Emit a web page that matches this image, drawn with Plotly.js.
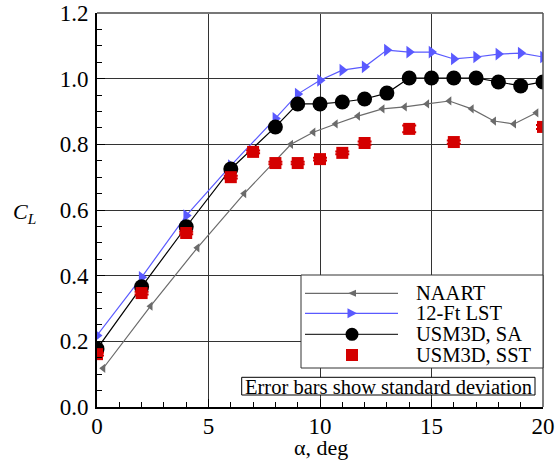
<!DOCTYPE html>
<html>
<head>
<meta charset="utf-8">
<script src="https://cdn.plot.ly/plotly-3.0.1.min.js"></script>
<style>html,body{margin:0;padding:0;background:#fff;}#chart{width:555px;height:463px;}</style>
</head>
<body>
<div id="chart"></div>
<script>
// ---- data ----
const alphaNaart = [0.28, 2.4, 4.5, 6.6, 8.7, 9.7, 10.7, 11.7, 12.8, 13.8, 14.8, 15.8, 16.8, 17.8, 18.7, 19.7];
const clNaart    = [0.118, 0.307, 0.485, 0.65, 0.80, 0.837, 0.862, 0.886, 0.908, 0.914, 0.923, 0.932, 0.908, 0.871, 0.862, 0.896];

const alphaLst = [0, 2, 4, 6, 8, 9, 10, 11, 12, 13, 14, 15, 16, 17, 18, 19, 20];
const clLst    = [0.218, 0.395, 0.583, 0.735, 0.879, 0.953, 0.995, 1.026, 1.036, 1.087, 1.081, 1.081, 1.06, 1.066, 1.075, 1.078, 1.066];

const alphaSa = [0, 2, 4, 6, 8, 9, 10, 11, 12, 13, 14, 15, 16, 17, 18, 19, 20];
const clSa    = [0.177, 0.366, 0.549, 0.725, 0.853, 0.923, 0.923, 0.929, 0.938, 0.956, 1.002, 1.002, 1.002, 1.002, 0.99, 0.978, 0.99];

const alphaSst = [0, 2, 4, 6, 7, 8, 9, 10, 11, 12, 14, 16, 20];
const clSst    = [0.161, 0.347, 0.53, 0.70, 0.777, 0.743, 0.743, 0.755, 0.774, 0.804, 0.847, 0.807, 0.853];
const sdSst    = [0.004, 0.004, 0.004, 0.004, 0.004, 0.004, 0.004, 0.004, 0.004, 0.005, 0.010, 0.005, 0.006];

const seriesNames = ['NAART', '12-Ft LST', 'USM3D, SA', 'USM3D, SST'];
const xTitle = 'α, deg';
const yTitle = '<i>C</i><sub><i>L</i></sub>';
const noteText = 'Error bars show standard deviation';

// ---- styles ----
const FONT = 'Liberation Serif';
const cGray = '#6b6b6b', cBlue = '#5a5aff', cBlack = '#000000', cRed = '#d40000';

const traces = [
  {x: alphaNaart, y: clNaart, name: seriesNames[0], mode: 'lines+markers',
   line: {color: cGray, width: 1.2}, marker: {symbol: 'triangle-left', size: 8, color: cGray}},
  {x: alphaLst, y: clLst, name: seriesNames[1], mode: 'lines+markers',
   line: {color: cBlue, width: 1.2}, marker: {symbol: 'triangle-right', size: 11, color: cBlue}},
  {x: alphaSa, y: clSa, name: seriesNames[2], mode: 'lines+markers',
   line: {color: cBlack, width: 1.2}, marker: {symbol: 'circle', size: 15, color: cBlack}},
  {x: alphaSst, y: clSst, name: seriesNames[3], mode: 'markers',
   marker: {symbol: 'square', size: 12, color: cRed},
   error_y: {type: 'data', array: sdSst, visible: true, color: cRed, thickness: 2, width: 7}}
];

// plot-area pixel geometry (for legend decorations)
const L = 97, R = 543, T = 13, B = 407;
const px = v => (v - L) / (R - L);
const py = v => (B - v) / (B - T);

const rowsY = [293.3, 313.3, 334.3, 355];
const lineX0 = px(305), lineX1 = px(398), markX = px(352), textX = px(414);

const shapes = [
  // top & right frame
  {type: 'line', xref: 'paper', yref: 'paper', x0: 0, x1: 1, y0: 1, y1: 1, line: {color: '#777', width: 2}},
  {type: 'line', xref: 'paper', yref: 'paper', x0: 1, x1: 1, y0: 0, y1: 1, line: {color: '#555', width: 1.5}},
  // legend box
  {type: 'rect', xref: 'paper', yref: 'paper', x0: px(301), x1: px(543), y0: py(368), y1: py(275),
   line: {color: '#333', width: 1}, fillcolor: '#fff'},
  // legend sample lines
  {type: 'line', xref: 'paper', yref: 'paper', x0: lineX0, x1: lineX1, y0: py(rowsY[0]), y1: py(rowsY[0]), line: {color: cGray, width: 1.2}},
  {type: 'line', xref: 'paper', yref: 'paper', x0: lineX0, x1: lineX1, y0: py(rowsY[1]), y1: py(rowsY[1]), line: {color: cBlue, width: 1.2}},
  {type: 'line', xref: 'paper', yref: 'paper', x0: lineX0, x1: lineX1, y0: py(rowsY[2]), y1: py(rowsY[2]), line: {color: '#333', width: 1.2}},
  // legend markers
  {type: 'path', xref: 'paper', yref: 'paper', xsizemode: 'pixel', ysizemode: 'pixel', xanchor: markX, yanchor: py(rowsY[0]),
   path: 'M -4 0 L 4 3.5 L 4 -3.5 Z', fillcolor: cGray, line: {width: 0}},
  {type: 'path', xref: 'paper', yref: 'paper', xsizemode: 'pixel', ysizemode: 'pixel', xanchor: markX, yanchor: py(rowsY[1]),
   path: 'M -4.5 -5 L 5 0 L -4.5 5 Z', fillcolor: cBlue, line: {width: 0}},
  {type: 'circle', xref: 'paper', yref: 'paper', xsizemode: 'pixel', ysizemode: 'pixel', xanchor: markX, yanchor: py(rowsY[2]),
   x0: -6.5, x1: 6.5, y0: -6.5, y1: 6.5, fillcolor: cBlack, line: {width: 0}},
  {type: 'rect', xref: 'paper', yref: 'paper', xsizemode: 'pixel', ysizemode: 'pixel', xanchor: markX, yanchor: py(rowsY[3]),
   x0: -6, x1: 6, y0: -6, y1: 6, fillcolor: cRed, line: {width: 0}},
  // note box
  {type: 'rect', xref: 'paper', yref: 'paper', x0: px(241.7), x1: px(535), y0: py(395), y1: py(377.3),
   line: {color: '#000', width: 1}, fillcolor: '#fff'}
];

const annotations = seriesNames.map((n, i) => ({
  xref: 'paper', yref: 'paper', x: textX, y: py(rowsY[i]), xanchor: 'left', yanchor: 'middle',
  text: n, showarrow: false, font: {family: FONT, size: 20.5, color: '#000'}
}));
annotations.push({xref: 'paper', yref: 'paper', x: px(388.3), y: py(386.5), xanchor: 'center', yanchor: 'middle',
  text: noteText, showarrow: false, font: {family: FONT, size: 20.5, color: '#000'}});
annotations.push({xref: 'paper', yref: 'paper', x: px(24), y: py(213), xanchor: 'center', yanchor: 'middle',
  text: yTitle, showarrow: false, font: {family: FONT, size: 22, color: '#000'}});
annotations.push({xref: 'paper', yref: 'paper', x: px(321), y: py(448), xanchor: 'center', yanchor: 'middle',
  text: xTitle, showarrow: false, font: {family: FONT, size: 22, color: '#000'}});

const axisCommon = {
  showgrid: true, gridcolor: '#333', gridwidth: 1, zeroline: false,
  ticks: 'inside', ticklen: 8, tickcolor: '#000', tickwidth: 1,
  showline: true, linecolor: '#000', linewidth: 2, mirror: false,
  tickfont: {family: FONT, size: 23, color: '#000'}
};

const layout = {
  width: 555, height: 463,
  margin: {l: L, r: 555 - R, t: T, b: 463 - B, pad: 0},
  paper_bgcolor: '#fff', plot_bgcolor: '#fff',
  showlegend: false,
  xaxis: Object.assign({}, axisCommon, {range: [0, 20], tick0: 0, dtick: 5, ticklabelstandoff: -3,
    minor: {dtick: 1, ticks: 'inside', ticklen: 5, tickcolor: '#000', showgrid: false}}),
  yaxis: Object.assign({}, axisCommon, {range: [0, 1.2], tick0: 0, dtick: 0.2, tickformat: '.1f', ticklabelstandoff: 2,
    minor: {dtick: 0.05, ticks: 'inside', ticklen: 5, tickcolor: '#000', showgrid: false}}),
  shapes: shapes,
  annotations: annotations
};

Plotly.newPlot('chart', traces, layout, {displayModeBar: false, staticPlot: true});
</script>
</body>
</html>
